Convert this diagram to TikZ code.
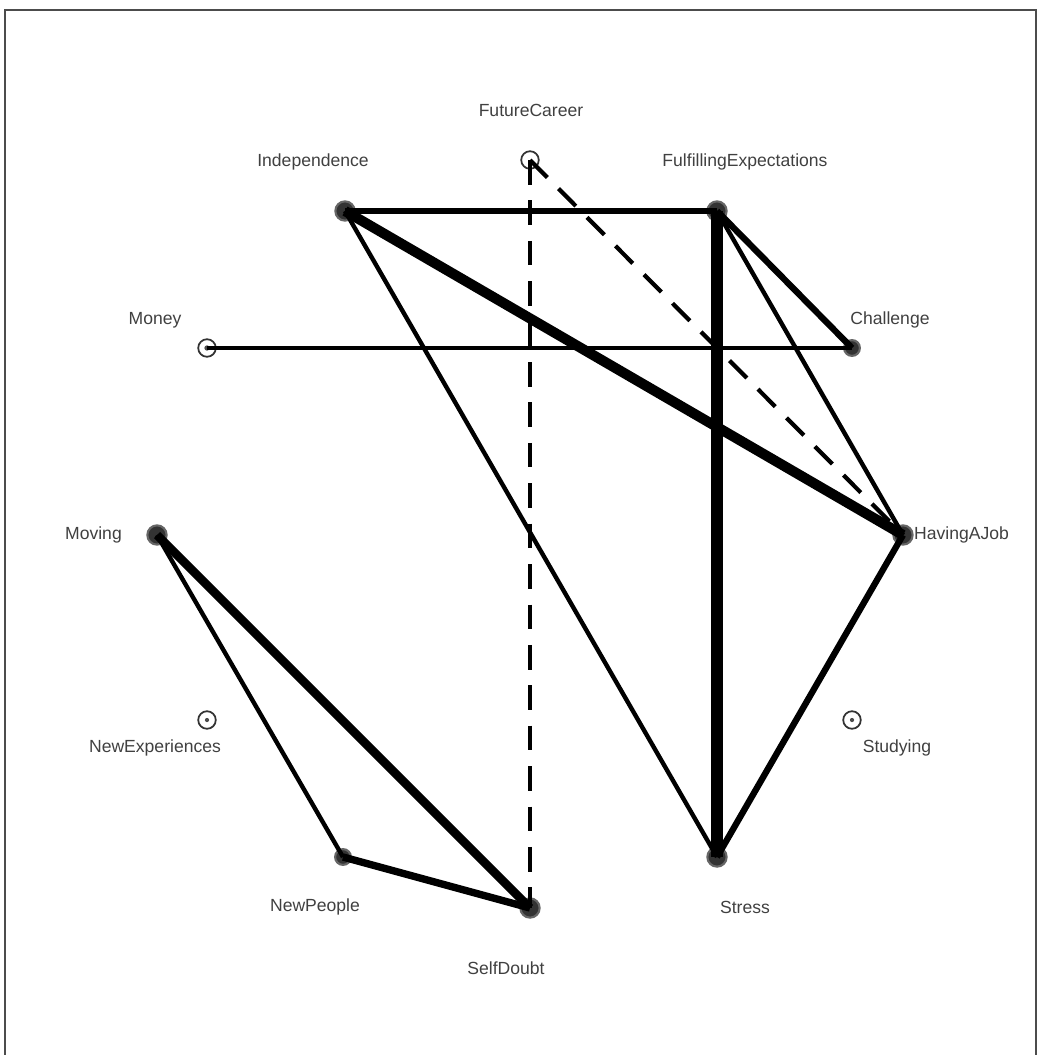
\documentclass[tikz,border=0pt]{standalone}
\usepackage{fontspec}
\setmainfont{Liberation Sans}
\begin{document}
\begin{tikzpicture}[
  x=0.02cm, y=-0.02cm,
  every node/.style={font=\fontsize{10}{12}\selectfont, text=black!75},
  vertex/.style={circle, draw=black!60, line width=1.2pt, fill=black!80, inner sep=0pt, minimum size=11pt},
  lonely/.style={circle, draw=black!80, line width=1pt, fill=white, inner sep=0pt, minimum size=10pt},
  thin tie/.style={line width=2.5pt},
  mid tie/.style={line width=3.6pt},
  bold tie/.style={line width=5pt},
  heavy tie/.style={line width=5.8pt},
  hint/.style={line width=2.4pt, dash pattern=on 14pt off 9pt}
]
\useasboundingbox (0,0) rectangle (1040,1055);
\begin{scope}
\clip (0,0) rectangle (1040,1055);
\draw[black!70, line width=1.4pt] (5,10) rectangle (1036,1070);
\end{scope}

% people and places
\node[lonely] (career) at (530,160) {};
\node[vertex] (indep) at (345,211) {};
\node[vertex] (fulfil) at (717,211) {};
\node[lonely] (money) at (207,348) {};
\node[vertex, minimum size=9pt] (challenge) at (852,348) {};
\node[vertex] (moving) at (157,535) {};
\node[vertex] (job) at (903,535) {};
\node[lonely] (newexp) at (207,720) {};
\node[lonely] (studying) at (852,720) {};
\node[vertex, minimum size=9pt] (newpeople) at (343,857) {};
\node[vertex] (selfdoubt) at (530,908) {};
\node[vertex] (stress) at (717,857) {};
\fill[black!70] (newexp) circle (1.2pt);
\fill[black!70] (studying) circle (1.2pt);
\fill[black!70] (money) circle (1.5pt);

% labels
\node (career-l) at (531,110) {FutureCareer};
\node (indep-l) at (313,162) {Independence};
\node (fulfil-l) at (745,162) {FulfillingExpectations};
\node (money-l) at (155,320) {Money};
\node (challenge-l) at (890,320) {Challenge};
\node[anchor=east] (moving-l) at (128,535) {Moving};
\node[anchor=west] (job-l) at (908,535) {HavingAJob};
\node (newexp-l) at (155,748) {NewExperiences};
\node (studying-l) at (897,748) {Studying};
\node (newpeople-l) at (315,907) {NewPeople};
\node (selfdoubt-l) at (506,968) {SelfDoubt};
\node (stress-l) at (745,907) {Stress};

% ties
\draw[hint] (career.center) -- (selfdoubt.center);
\draw[hint] (career.center) -- (job.center);
\draw[thin tie] (money.center) -- (challenge.center);
\draw[mid tie] (indep.center) -- (fulfil.center);
\draw[heavy tie] (indep.center) -- (job.center);
\draw[thin tie] (indep.center) -- (stress.center);
\draw[heavy tie, line width=6.6pt] (fulfil.center) -- (stress.center);
\draw[mid tie] (fulfil.center) -- (challenge.center);
\draw[thin tie] (fulfil.center) -- (job.center);
\draw[mid tie] (job.center) -- (stress.center);
\draw[thin tie] (moving.center) -- (newpeople.center);
\draw[bold tie] (moving.center) -- (selfdoubt.center);
\draw[bold tie, line width=4.2pt] (newpeople.center) -- (selfdoubt.center);
\end{tikzpicture}
\end{document}
